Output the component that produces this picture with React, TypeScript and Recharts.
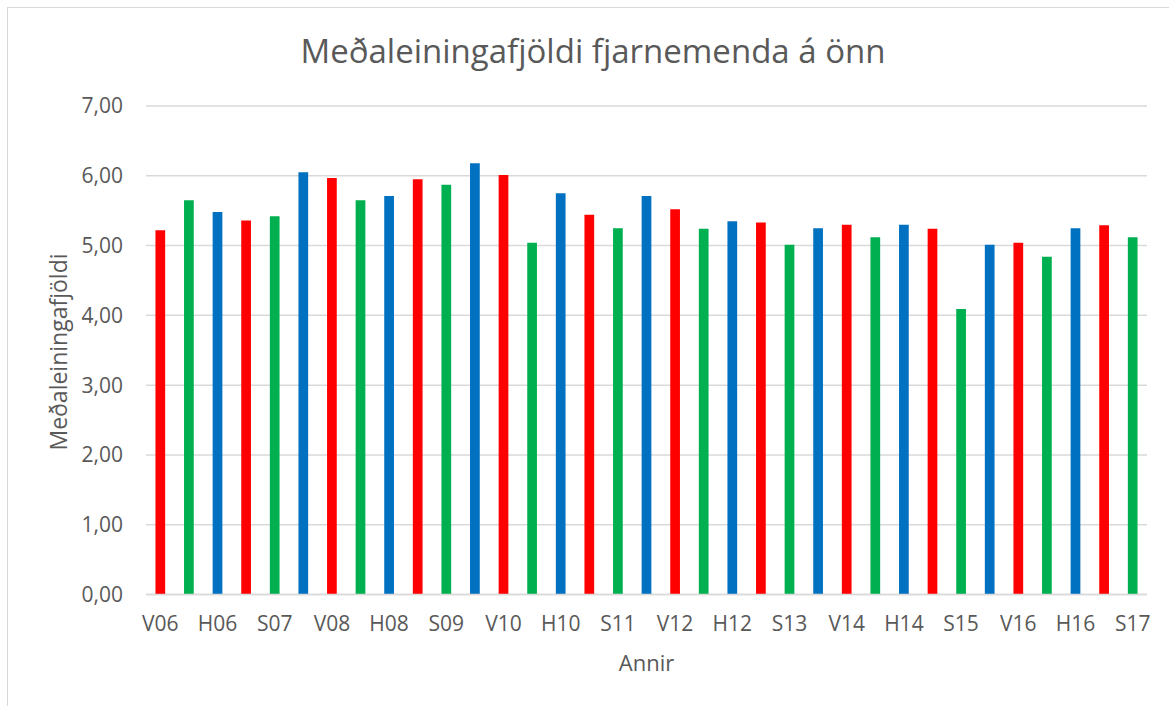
import React from "react";
import { BarChart, Bar, XAxis, YAxis, CartesianGrid, Cell } from "recharts";

const categories = [
  "V06", "S06", "H06", "V07", "S07", "H07", "V08", "S08", "H08",
  "V09", "S09", "H09", "V10", "S10", "H10", "V11", "S11", "H11",
  "V12", "S12", "H12", "V13", "S13", "H13", "V14", "S14", "H14",
  "V15", "S15", "H15", "V16", "S16", "H16", "V17", "S17",
];

const values = [
  5.22, 5.65, 5.48, 5.36, 5.42, 6.05, 5.97, 5.65, 5.71,
  5.95, 5.87, 6.18, 6.01, 5.04, 5.75, 5.44, 5.25, 5.71,
  5.52, 5.24, 5.35, 5.33, 5.01, 5.25, 5.30, 5.12, 5.30,
  5.24, 4.09, 5.01, 5.04, 4.84, 5.25, 5.29, 5.12,
];

const yTicks = [0, 1, 2, 3, 4, 5, 6, 7];

const title = "Meðaleiningafjöldi fjarnemenda á önn";
const yTitle = "Meðaleiningafjöldi";
const xTitle = "Annir";

const seasonColors: Record<string, string> = {
  V: "#FF0000",
  S: "#00B050",
  H: "#0070C0",
};

const data = categories.map((c, i) => ({ name: c, value: values[i] }));

const FONT = "'Open Sans', 'Noto Sans', sans-serif";
const TEXT = "#595959";

export default function App() {
  return (
    <div
      style={{
        position: "absolute",
        left: 0,
        top: 0,
        width: 1169,
        height: 706,
        overflow: "hidden",
        background: "#fff",
        fontFamily: FONT,
      }}
    >
      <div
        style={{
          position: "absolute",
          left: 7,
          top: 7,
          width: 1180,
          height: 720,
          border: "1px solid #D9D9D9",
          boxSizing: "border-box",
        }}
      />
      <div style={{ position: "absolute", left: 0, top: 0 }}>
        <BarChart
          width={1169}
          height={706}
          data={data}
          margin={{ top: 106, right: 22, bottom: 81.5, left: 0 }}
          barCategoryGap="67%"
        >
          <CartesianGrid vertical={false} stroke="#D9D9D9" strokeWidth={1.5} />
          <XAxis
            dataKey="name"
            height={30}
            interval={1}
            tickLine={false}
            tickSize={0}
            tickMargin={22}
            axisLine={{ stroke: "#D9D9D9", strokeWidth: 1.5 }}
            tick={{ fill: TEXT, fontSize: 21, fontFamily: FONT }}
          />
          <YAxis
            width={146}
            domain={[0, 7]}
            ticks={yTicks}
            interval={0}
            tickFormatter={(v: number) => v.toFixed(2).replace(".", ",")}
            tickLine={false}
            tickSize={0}
            tickMargin={23}
            axisLine={false}
            tick={{ fill: TEXT, fontSize: 21, fontFamily: FONT }}
          />
          <Bar dataKey="value" isAnimationActive={false}>
            {data.map((d) => (
              <Cell key={d.name} fill={seasonColors[d.name[0]]} />
            ))}
          </Bar>
        </BarChart>
      </div>
      <div
        style={{
          position: "absolute",
          left: 0,
          width: 1186,
          top: 29,
          textAlign: "center",
          fontSize: 33,
          color: TEXT,
          lineHeight: "44px",
          whiteSpace: "nowrap",
        }}
      >
        {title}
      </div>
      <div
        style={{
          position: "absolute",
          left: 146,
          width: 1001,
          top: 647,
          textAlign: "center",
          fontSize: 22,
          color: TEXT,
          lineHeight: "30px",
        }}
      >
        {xTitle}
      </div>
      <div
        style={{
          position: "absolute",
          left: 58 - 150,
          top: 352 - 15,
          width: 300,
          height: 30,
          lineHeight: "30px",
          textAlign: "center",
          fontSize: 23,
          color: TEXT,
          transform: "rotate(-90deg)",
          whiteSpace: "nowrap",
        }}
      >
        {yTitle}
      </div>
    </div>
  );
}
